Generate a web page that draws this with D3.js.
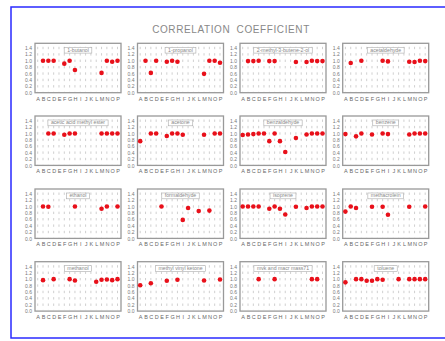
<!DOCTYPE html>
<html>
<head>
<meta charset="utf-8">
<script src="https://cdn.jsdelivr.net/npm/d3@7"></script>
<style>
  html, body { margin: 0; padding: 0; background: #fff; }
  svg { display: block; font-family: "Liberation Sans", Arial, sans-serif; }
</style>
</head>
<body>
<script>
// categories (instruments) and y ticks
const categories = 'ABCDEFGHIJKLMNOP'.split('');
const yTicks = [0, 0.2, 0.4, 0.6, 0.8, 1.0, 1.2, 1.4];
const compounds = [
    '1-butanol', '1-propanol', '2-methyl-3-butene-2-ol', 'acetaldehyde',
    'acetic acid methyl ester', 'acetone', 'benzaldehyde', 'benzene',
    'ethanol', 'formaldehyde', 'isoprene', 'methacrolein',
    'methanol', 'methyl vinyl ketone', 'mvk and macr mass71', 'toluene'
];
const _ = null;
//                      A     B     C     D     E     F     G     H     I     J     K     L     M     N     O     P
const butanol1     = [  _,  1.00, 1.00, 1.00,   _,  0.91, 1.00, 0.71,   _,    _,    _,    _,  0.62, 1.00, 0.97, 1.00];
const propanol1    = [  _,  1.00, 0.62, 1.00,   _,  0.97, 1.00, 0.97,   _,    _,    _,    _,  0.59, 1.00, 1.00, 0.94];
const mbo          = [  _,  0.99, 0.99, 1.00,   _,  0.99, 0.99,   _,    _,    _,  0.96,   _,  0.96, 1.00, 0.99, 0.99];
const acetaldehyde = [  _,  0.93,   _,  1.00,   _,    _,    _,  1.00, 0.98,   _,    _,    _,  0.97, 0.96, 1.00, 0.99];
const methylAcetate= [  _,    _,  1.00, 1.00,   _,  0.96, 1.00, 1.00,   _,    _,    _,    _,  1.00, 1.00, 1.00, 1.00];
const acetone      = [0.76,   _,  1.00, 1.00,   _,  0.92, 1.00, 1.00, 0.96,   _,    _,    _,  0.96,   _,  1.00, 1.00];
const benzaldehyde = [0.95, 0.97, 0.98, 1.00, 1.00, 0.76, 1.00, 0.76, 0.42,   _,  0.86,   _,  0.97, 1.00, 1.00, 1.00];
const benzene      = [0.98,   _,  0.91, 1.00,   _,  0.97,   _,  1.00, 0.98,   _,    _,    _,  0.97, 1.00, 1.00, 1.00];
const ethanol      = [  _,  1.00, 0.99,   _,    _,    _,    _,  1.00,   _,    _,    _,    _,  0.93, 1.00,   _,  1.00];
const formaldehyde = [  _,    _,    _,    _,  1.00,   _,    _,    _,  0.58, 0.95,   _,  0.86,   _,  0.87,   _,    _ ];
const isoprene     = [1.00, 1.00, 1.00, 1.00,   _,  0.93, 1.00, 0.93, 0.75,   _,  0.99,   _,  0.95, 1.00, 1.00, 1.00];
const methacrolein = [0.84, 1.00, 0.95,   _,    _,  0.99,   _,  0.99, 0.74,   _,    _,    _,  0.99,   _,    _,  1.00];
const methanol     = [  _,  0.97,   _,  1.00,   _,    _,  1.00, 0.96,   _,    _,    _,  0.92, 0.98, 0.99, 0.97, 1.00];
const mvk          = [0.81,   _,  0.87,   _,    _,  0.95,   _,  0.98,   _,    _,    _,    _,  0.96,   _,    _,  0.99];
const mvkMacr      = [  _,    _,    _,  1.00,   _,    _,  1.00,   _,    _,    _,    _,    _,    _,  1.00, 1.00,   _ ];
const toluene      = [0.90,   _,  1.00, 1.00, 0.95, 0.95, 1.00, 0.98,   _,    _,  1.00,   _,  1.00, 1.00, 1.00, 1.00];

const series = [butanol1, propanol1, mbo, acetaldehyde, methylAcetate, acetone, benzaldehyde, benzene,
    ethanol, formaldehyde, isoprene, methacrolein, methanol, mvk, mvkMacr, toluene];

const W = 445, H = 341;
const panelW = 86, panelH = 49.4;
const colX = [35, 137.5, 240, 342.7];
const rowY = [43.3, 116, 189, 261.7];

const svg = d3.select('body')
    .append('svg')
    .attr('width', W)
    .attr('height', H);

// outer blue frame
svg.append('rect')
    .attr('x', 11).attr('y', 7)
    .attr('width', 441).attr('height', 331)
    .attr('fill', 'none')
    .attr('stroke', '#2a2aff')
    .attr('stroke-width', 1.5);

svg.append('text')
    .attr('x', 231).attr('y', 33)
    .attr('text-anchor', 'middle')
    .attr('fill', '#888')
    .style('font-size', '10px')
    .style('letter-spacing', '0.6px')
    .style('word-spacing', '3px')
    .text('CORRELATION COEFFICIENT');

const x = d3.scalePoint().domain(categories).range([2.7, 82.5]);
const y = d3.scaleLinear().domain([0, 1.4]).range([panelH, 4.7]);
const step = y(0) - y(0.2);

series.forEach((vals, i) => {
    const g = svg.append('g')
        .attr('transform', `translate(${colX[i % 4]}, ${rowY[Math.floor(i / 4)]})`);

    // dotted vertical grid
    g.append('g').selectAll('line')
        .data(categories)
        .join('line')
        .attr('x1', d => x(d)).attr('x2', d => x(d))
        .attr('y1', 1).attr('y2', panelH - 1)
        .attr('stroke', '#bbb')
        .attr('stroke-width', 0.7)
        .attr('stroke-dasharray', `2.4,${step - 2.4}`)
        .attr('stroke-dashoffset', -(y(1.4) - 1.2 - 1) % step);

    g.append('rect')
        .attr('width', panelW).attr('height', panelH)
        .attr('fill', 'none')
        .attr('stroke', '#999')
        .attr('stroke-width', 1.3);

    // y labels
    const yAxis = d3.axisLeft(y).tickValues(yTicks).tickFormat(d3.format('.1f')).tickSize(0).tickPadding(3);
    const yg = g.append('g').call(yAxis);
    yg.select('.domain').remove();
    yg.selectAll('text').attr('fill', '#777').style('font-size', '5px');

    // x labels
    const xAxis = d3.axisBottom(x).tickSize(0).tickPadding(4);
    const xg = g.append('g').attr('transform', `translate(0, ${panelH})`).call(xAxis);
    xg.select('.domain').remove();
    xg.selectAll('text').attr('fill', '#666').style('font-size', '5.5px');

    // title box
    const tb = g.append('g');
    const t = tb.append('text')
        .attr('x', panelW / 2).attr('y', 8.4)
        .attr('text-anchor', 'middle')
        .attr('fill', '#888')
        .style('font-size', '5.2px')
        .text(compounds[i]);
    const tw = t.node().getComputedTextLength() + 6;
    tb.insert('rect', 'text')
        .attr('x', panelW / 2 - tw / 2).attr('y', 4)
        .attr('width', tw).attr('height', 5.8)
        .attr('fill', '#fff')
        .attr('stroke', '#aaa')
        .attr('stroke-width', 0.6);

    const pts = categories.map((c, k) => ({ c, v: vals[k] })).filter(d => d.v !== null);
    g.append('g').selectAll('circle')
        .data(pts)
        .join('circle')
        .attr('cx', d => x(d.c))
        .attr('cy', d => y(d.v))
        .attr('r', 2.3)
        .attr('fill', '#e8101a');
});
</script>
</body>
</html>
